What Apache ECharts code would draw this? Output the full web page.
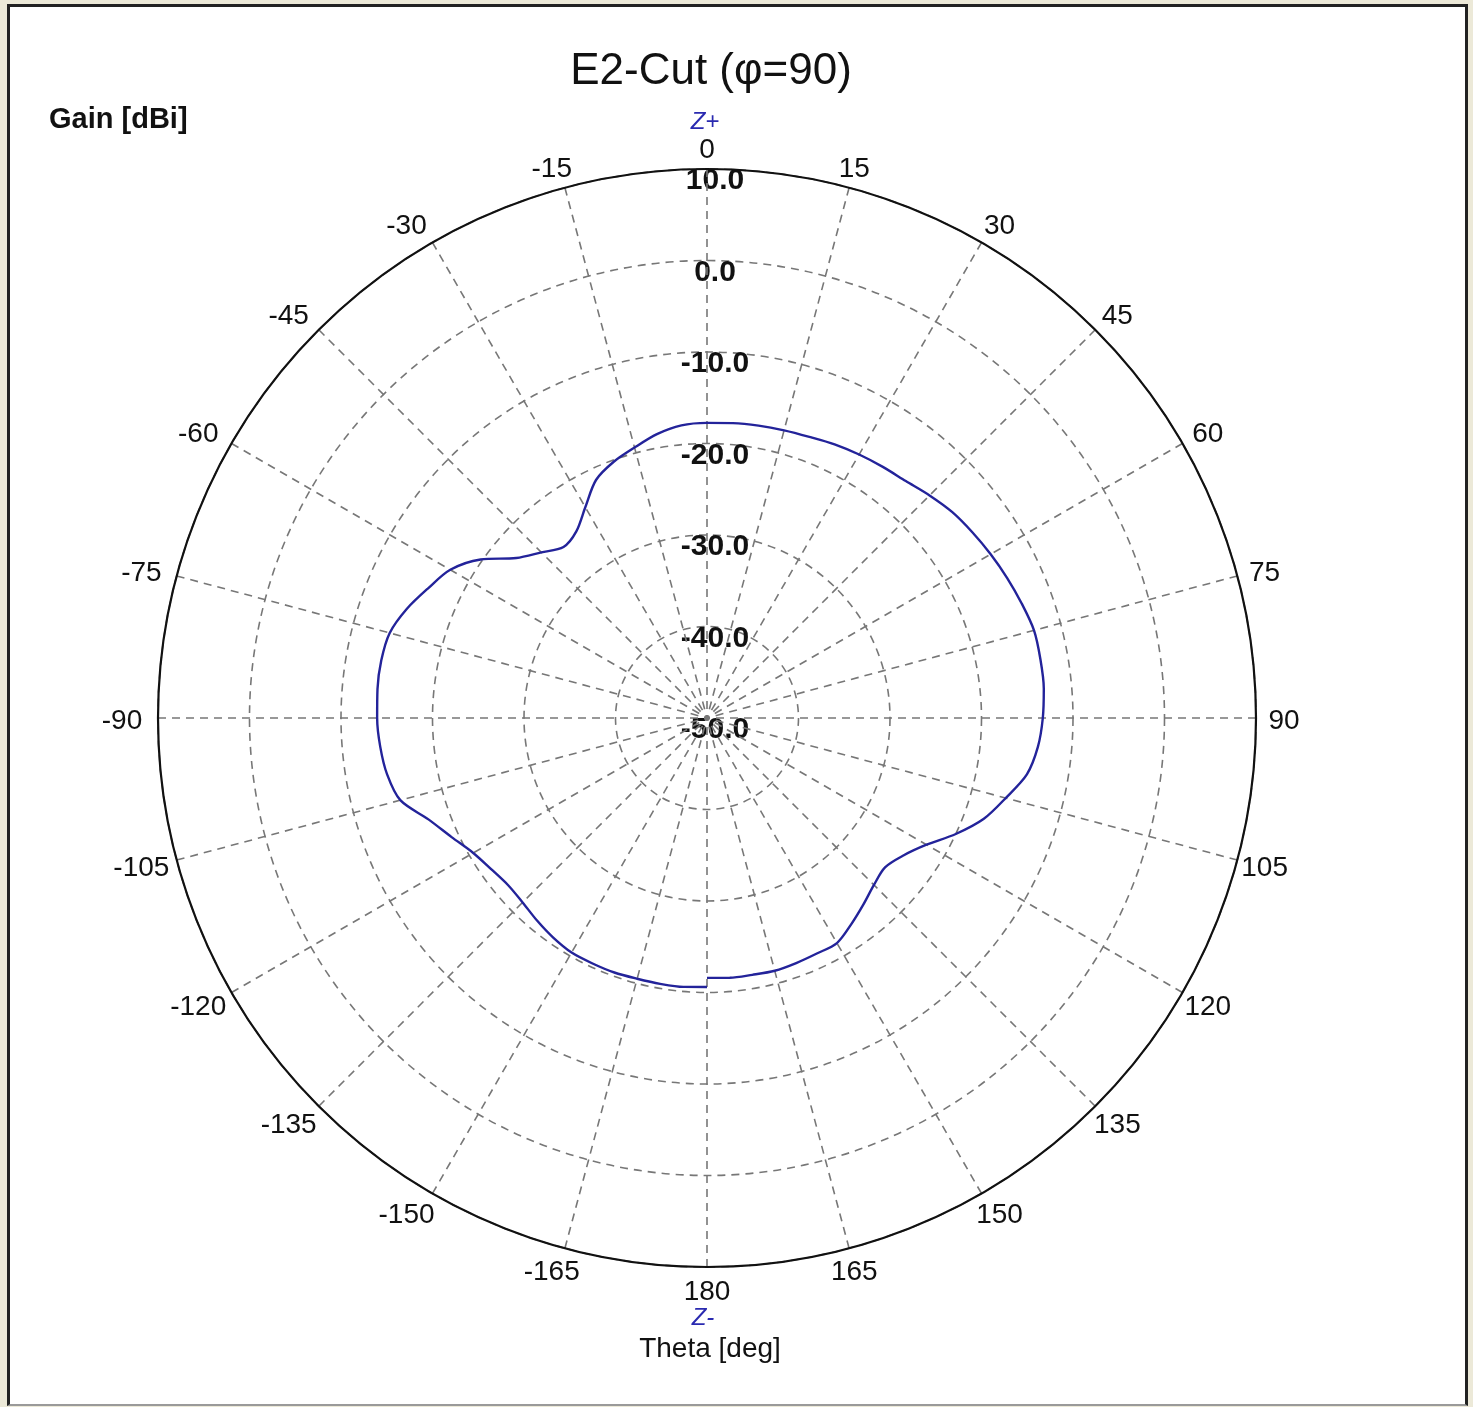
<!DOCTYPE html>
<html>
<head>
<meta charset="utf-8">
<script src="https://cdn.jsdelivr.net/npm/echarts@6/dist/echarts.min.js"></script>
<style>
  html, body { margin: 0; padding: 0; background: #ECE9D8; width: 1473px; height: 1407px; overflow: hidden; }
  #panel { position: absolute; left: 7px; top: 4px; width: 1461px; height: 1402px; background: #ffffff;
           box-sizing: border-box; border-left: 3px solid #222; border-top: 3px solid #222;
           border-right: 3px solid #222; border-bottom: 2px solid #9a9a9a; }
  #chart { position: absolute; left: 0; top: 0; width: 1473px; height: 1407px; }
</style>
</head>
<body>
<div id="panel"></div>
<div id="chart"></div>
<script>
// ---- data (Theta in degrees, Gain in dBi) ----
const thetaDeg = [-180, -175, -170, -165, -160, -155, -150, -145, -140, -135, -130, -125, -120,
  -115, -110, -105, -100, -95, -90, -85, -80, -75, -70, -65, -60,
  -55, -50, -45, -40, -35, -30, -25, -20, -15, -10, -5, 0,
  5, 10, 15, 20, 25, 30, 35, 40, 45, 50, 55, 60,
  65, 70, 75, 80, 85, 90, 95, 100, 105, 110, 115, 120,
  125, 130, 135, 140, 145, 150, 155, 160, 165, 170, 175, 180];
const gainDbi = [-20.6, -20.5, -20.5, -20.5, -20.4, -20.4, -20.4, -20.7, -21.1, -21.5, -21.6, -21.2, -20.5,
  -19.2, -17.6, -15.3, -14.5, -14.15, -13.95, -13.85, -13.85, -14.1, -15.1, -16.4, -17.6,
  -19.8, -22.8, -24.4, -25.6, -25.1, -23.4, -21.3, -20.2, -19.4, -18.5, -17.9, -17.75,
  -17.65, -17.55, -17.45, -17.3, -17.0, -16.75, -16.5, -16.2, -15.6, -15.0, -14.6, -14.2,
  -13.8, -13.4, -13.0, -13.0, -13.05, -13.3, -13.7, -14.5, -16.2, -17.8, -20.0, -22.3,
  -23.8, -24.6, -24.2, -23.4, -22.5, -21.6, -21.6, -21.5, -21.4, -21.5, -21.5, -21.6];

const gainMin = -50, gainMax = 10, gainStep = 10;
const angleStep = 15;

const titleText = 'E2-Cut (\u03C6=90)';
const gainLabel = 'Gain [dBi]';
const thetaLabel = 'Theta [deg]';
const zPlus = 'Z+', zMinus = 'Z-';

const FONT = '"Liberation Sans", Arial, sans-serif';

const seriesData = thetaDeg.map((t, i) => [gainDbi[i], t < 0 ? t + 360 : t]);

function angleLabel(v) {
  if (v === 360) return '';
  const d = v > 180 ? v - 360 : v;
  const a = Math.abs(d);
  if (a === 0 || a === 180) return '{c|' + d + '}';
  const nearVertical = a <= 15 || a >= 165;
  if (d > 0) return (nearVertical ? '{c|' : '{p|') + d + '}';
  return (nearVertical ? '{n1|' : '{n|') + d + '}';
}

const lbl = { fontSize: 28, color: '#111', fontFamily: FONT, lineHeight: 4 };

const chart = echarts.init(document.getElementById('chart'), null, { renderer: 'canvas' });
chart.setOption({
  backgroundColor: 'transparent',
  animation: false,
  textStyle: { fontFamily: FONT },
  polar: { center: [707, 718], radius: 549 },
  angleAxis: {
    type: 'value', min: 0, max: 360, interval: angleStep,
    startAngle: 90, clockwise: true,
    axisLine: { show: true, lineStyle: { color: '#111', width: 2.2 } },
    axisTick: { show: false },
    splitLine: { show: true, lineStyle: { color: '#777', width: 1.6, type: [8, 6] } },
    axisLabel: {
      margin: 20,
      fontSize: 28, color: '#111', fontFamily: FONT, lineHeight: 4,
      formatter: angleLabel,
      rich: {
        c: Object.assign({ padding: [3, 0, -3, 0] }, lbl),
        n1: Object.assign({ padding: [3, 16, -3, 0] }, lbl),
        p: Object.assign({ width: 16, align: 'center', padding: [3, 0, -3, 0] }, lbl),
        n: Object.assign({ width: 32, align: 'center', padding: [3, 0, -3, 0] }, lbl)
      }
    },
    z: 4
  },
  radiusAxis: {
    type: 'value', min: gainMin, max: gainMax, interval: gainStep,
    axisLine: { show: false },
    axisTick: { show: false },
    splitLine: { show: true, lineStyle: { color: '#777', width: 1.6, type: [8, 6] } },
    axisLabel: {
      formatter: v => v.toFixed(1),
      fontSize: 30, fontWeight: 'bold', color: '#111', fontFamily: FONT,
      lineHeight: 24,
      align: 'center', verticalAlign: 'top', margin: -8
    },
    z: 3
  },
  series: [{
    type: 'line', coordinateSystem: 'polar',
    data: seriesData,
    symbol: 'none', showSymbol: false, smooth: 0.3,
    lineStyle: { color: '#23239a', width: 2.4 },
    z: 5
  }],
  graphic: [
    { type: 'text', x: 711, y: 72, style: { text: titleText, font: '44px ' + FONT, fill: '#111', align: 'center', verticalAlign: 'middle' } },
    { type: 'text', x: 49, y: 120, style: { text: gainLabel, font: 'bold 29px ' + FONT, fill: '#111', align: 'left', verticalAlign: 'middle' } },
    { type: 'text', x: 705, y: 122, style: { text: zPlus, font: 'italic 24px ' + FONT, fill: '#2a2ab0', align: 'center', verticalAlign: 'middle' } },
    { type: 'text', x: 703, y: 1318, style: { text: zMinus, font: 'italic 24px ' + FONT, fill: '#2a2ab0', align: 'center', verticalAlign: 'middle' } },
    { type: 'text', x: 710, y: 1349, style: { text: thetaLabel, font: '28px ' + FONT, fill: '#111', align: 'center', verticalAlign: 'middle' } }
  ]
});
</script>
</body>
</html>
